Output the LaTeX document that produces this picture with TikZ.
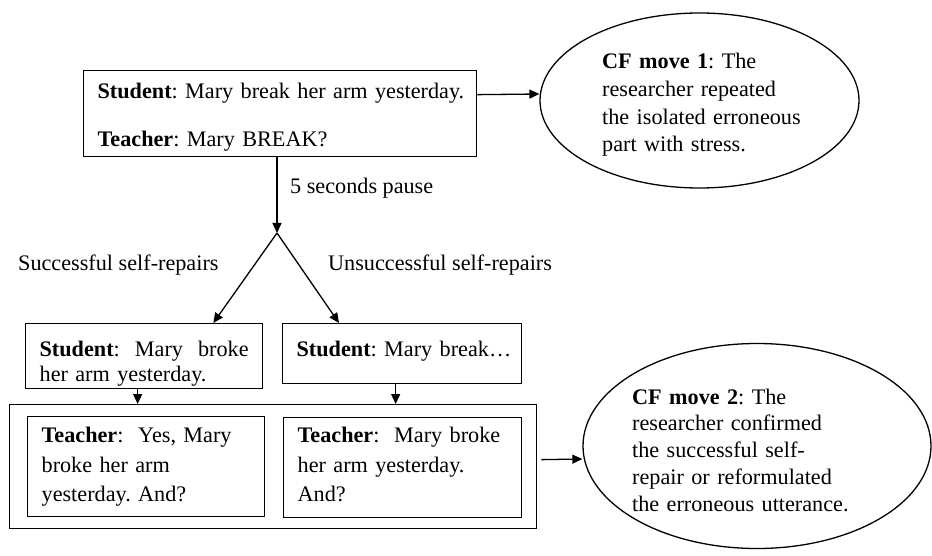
\documentclass[tikz,border=0pt]{standalone}
\usepackage{fontspec}
\setmainfont{Liberation Serif}
\usetikzlibrary{arrows.meta,shapes.geometric}
\begin{document}
\frenchspacing
\begin{tikzpicture}[x=1pt,y=-1pt,
  every node/.style={font=\fontsize{22.2}{27.5}\selectfont\frenchspacing},
  box/.style={draw, line width=1.3pt, anchor=north west, inner xsep=14pt, inner ysep=0pt, align=left},
  frame/.style={draw, line width=1.3pt, anchor=north west, inner sep=0pt},
  oval/.style={draw, ellipse, line width=1.3pt, inner sep=0pt},
  lbl/.style={anchor=base west, inner sep=0pt},
  ovaltxt/.style={anchor=base west, inner sep=0pt, align=left},
  arr/.style={line width=1.3pt, -{Triangle[length=10pt,width=9pt]}}]
\useasboundingbox (0,0) rectangle (932,556);

% top box
\node[box, text width=365pt, text height=28pt, text depth=58pt] (top) at (83,70)
  {\mbox{\textbf{Student}: Mary break her arm yesterday.}\\[20.5pt]\textbf{Teacher}: Mary BREAK?};

% ellipse 1
\node[oval, minimum width=319pt, minimum height=175pt] (cf1) at (699.5,100.5) {};
\node[ovaltxt, text width=215pt, font=\fontsize{22.2}{27.6}\selectfont\frenchspacing] (cf1txt) at (602,69)
  {\textbf{CF move 1}: The\\researcher repeated\\the isolated erroneous\\part with stress.};

% labels
\node[lbl] (pause) at (290,194) {5 seconds pause};
\node[lbl] (succ) at (18,270) {Successful self-repairs};
\node[lbl] (unsucc) at (328,271) {Unsuccessful self-repairs};

\coordinate (fork) at (277,233);

% student boxes
\node[box, text width=209pt, text height=32.7pt, text depth=32.3pt, font=\fontsize{22.2}{25}\selectfont\frenchspacing] (s1) at (25,323)
  {\textbf{Student}:\hfill Mary\hfill broke\\her arm yesterday.};
\node[box, text width=211pt, text height=33pt, text depth=27pt] (s2) at (282,323)
  {\mbox{\textbf{Student}: Mary break…}};

% outer frame
\node[frame, minimum width=527pt, minimum height=124pt] (outer) at (9,404) {};

% teacher boxes
\node[box, text width=209pt, text height=26pt, text depth=74pt, font=\fontsize{22.2}{29.5}\selectfont\frenchspacing] (t1) at (27,416)
  {\textbf{Teacher}:\ \ Yes, Mary\\broke her arm\\yesterday. And?};
\node[box, text width=210pt, text height=25pt, text depth=75pt, font=\fontsize{22.2}{29.5}\selectfont\frenchspacing] (t2) at (283,417)
  {\textbf{Teacher}:\ \ Mary broke\\her arm yesterday.\\And?};

% ellipse 2
\node[oval, minimum width=348pt, minimum height=205pt] (cf2) at (757,446) {};
\node[ovaltxt, text width=225pt, font=\fontsize{22.2}{26.75}\selectfont\frenchspacing] (cf2txt) at (632,404)
  {\textbf{CF move 2}: The\\researcher confirmed\\the successful self-\\repair or reformulated\\the erroneous utterance.};

% connectors
\draw[arr] ([yshift=19pt]top.east) -- ([yshift=6.5pt]cf1.west);
\draw[arr] (top.south -| fork) -- (fork);
\draw[arr] (fork) -- ([xshift=-50pt]s1.north east);
\draw[arr] (fork) -- ([xshift=57pt]s2.north west);
\draw[arr] ([xshift=-6.5pt]s1.south) -- ([xshift=-6.5pt]s1.south |- outer.north);
\draw[arr] ([xshift=-6.5pt]s2.south) -- ([xshift=-6.5pt]s2.south |- outer.north);
\draw[arr] ([yshift=7pt,xshift=4pt]outer.east) -- ([yshift=-13pt]cf2.west);
\end{tikzpicture}
\end{document}
